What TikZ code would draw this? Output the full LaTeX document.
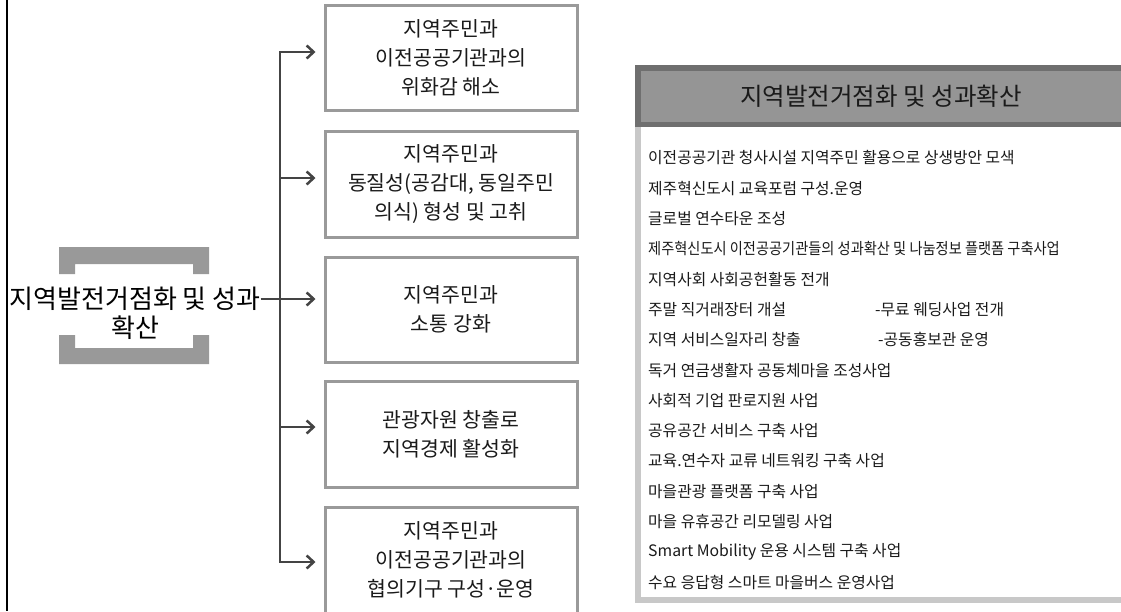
\documentclass[tikz,border=0pt]{standalone}
\usepackage{fontspec}
\usepackage{graphicx}
\setmainfont{Noto Sans CJK KR}
\usetikzlibrary{arrows.meta,calc}
\definecolor{hdfill}{HTML}{959595}
\definecolor{hdline}{HTML}{6F6F6F}
\definecolor{panelline}{HTML}{C8C8C8}
\definecolor{boxline}{HTML}{9A9A9A}
\definecolor{arrowc}{HTML}{444444}
\definecolor{brk}{HTML}{999999}
\definecolor{txt}{HTML}{1A1A1A}
\begin{document}
\begin{tikzpicture}[x=1pt,y=-1pt,
  box/.style={draw=boxline, line width=3pt, minimum width=252pt, text=txt,
    align=center, font=\fontsize{20.5}{29}\selectfont, inner sep=0pt},
  arr/.style={draw=arrowc, line width=2.5pt, -{Straight Barb[length=7pt,width=13pt]}, shorten >=8pt},
  conn/.style={draw=arrowc, line width=2.5pt},
  item/.style={anchor=west, inner sep=0pt, text=txt, font=\fontsize{15.8}{18}\selectfont},
  header/.style={fill=hdfill, draw=hdline, line width=5.5pt, minimum width=486pt,
    minimum height=56.5pt, inner sep=0pt, text=txt, font=\fontsize{24.5}{28}\selectfont},
  brkt/.style={fill=brk, draw=none}]
\useasboundingbox (0,0) rectangle (1121,611);
\fill[white] (0,0) rectangle (1121,611);
% left border
\draw[black, line width=2pt] (7,0) -- (7,611);
% brackets
\path[brkt] (59,247) -- (209,247) -- (209,274) -- (193,274) -- (193,264) -- (75,264) -- (75,274) -- (59,274) -- cycle;
\path[brkt] (59,364) -- (209,364) -- (209,335) -- (193,335) -- (193,348) -- (75,348) -- (75,335) -- (59,335) -- cycle;
% main text
\node[inner sep=0pt, font=\fontsize{26}{29}\selectfont, text=black] (main) at (135,299) {지역발전거점화 및 성과};
\node[inner sep=0pt, font=\fontsize{26}{29}\selectfont, text=black] (main2) at (135,328) {확산};
% boxes
\node[box, minimum height=105pt] (b1) at (451,57.5) {지역주민과\\이전공공기관과의\\위화감 해소};
\node[box, minimum height=106pt] (b2) at (451,184) {지역주민과\\동질성(공감대, 동일주민\\의식) 형성 및 고취};
\node[box, minimum height=105pt] (b3) at (451,309.5) {지역주민과\\소통 강화};
\node[box, minimum height=106pt] (b4) at (451,434) {관광자원 창출로\\지역경제 활성화};
\node[box, minimum height=106pt] (b5) at (451,560) {지역주민과\\이전공공기관과의\\협의기구 구성·운영};
% connectors
\coordinate (t1) at (280,52);
\coordinate (t2) at (280,178);
\coordinate (t4) at (280,427);
\coordinate (t5) at (280,562);
\draw[arr] (t5) -- (t1) -- (t1 -| b1.west);
\draw[arr] (t1) -- (t5) -- (t5 -| b5.west);
\draw[arr] (t2) -- (t2 -| b2.west);
\draw[arr] (t4) -- (t4 -| b4.west);
\draw[arr] (main.east) -- (main.east -| b3.west);
% right panel
\draw[panelline, line width=5.5pt] (638,100) rectangle (1124,600);
\node[header] (hd) at (881,96) {지역발전거점화 및 성과확산};
\node[item] (i1) at (648,158) {이전공공기관 청사시설 지역주민 활용으로 상생방안 모색};
\node[item] (i2) at (648,188.3) {제주혁신도시 교육포럼 구성.운영};
\node[item] (i3) at (648,218.6) {글로벌 연수타운 조성};
\node[item] (i4) at (648,248.9) {\scalebox{0.9}[1]{제주혁신도시 이전공공기관들의 성과확산 및 나눔정보 플랫폼 구축사업}};
\node[item] (i5) at (648,279.2) {지역사회 사회공헌활동 전개};
\node[item] (i6) at (648,309.5) {주말 직거래장터 개설};
\node[item] (i6b) at (875,309.5) {-무료 웨딩사업 전개};
\node[item] (i7) at (648,339.8) {지역 서비스일자리 창출};
\node[item] (i7b) at (878,339.8) {-공동홍보관 운영};
\node[item] (i8) at (648,370.1) {독거 연금생활자 공동체마을 조성사업};
\node[item] (i9) at (648,400.4) {사회적 기업 판로지원 사업};
\node[item] (i10) at (648,430.7) {공유공간 서비스 구축 사업};
\node[item] (i11) at (648,461) {교육.연수자 교류 네트워킹 구축 사업};
\node[item] (i12) at (648,491.3) {마을관광 플랫폼 구축 사업};
\node[item] (i13) at (648,521.6) {마을 유휴공간 리모델링 사업};
\node[item] (i14) at (648,551.9) {Smart Mobility 운용 시스템 구축 사업};
\node[item] (i15) at (648,582.2) {수요 응답형 스마트 마을버스 운영사업};
\end{tikzpicture}
\end{document}
